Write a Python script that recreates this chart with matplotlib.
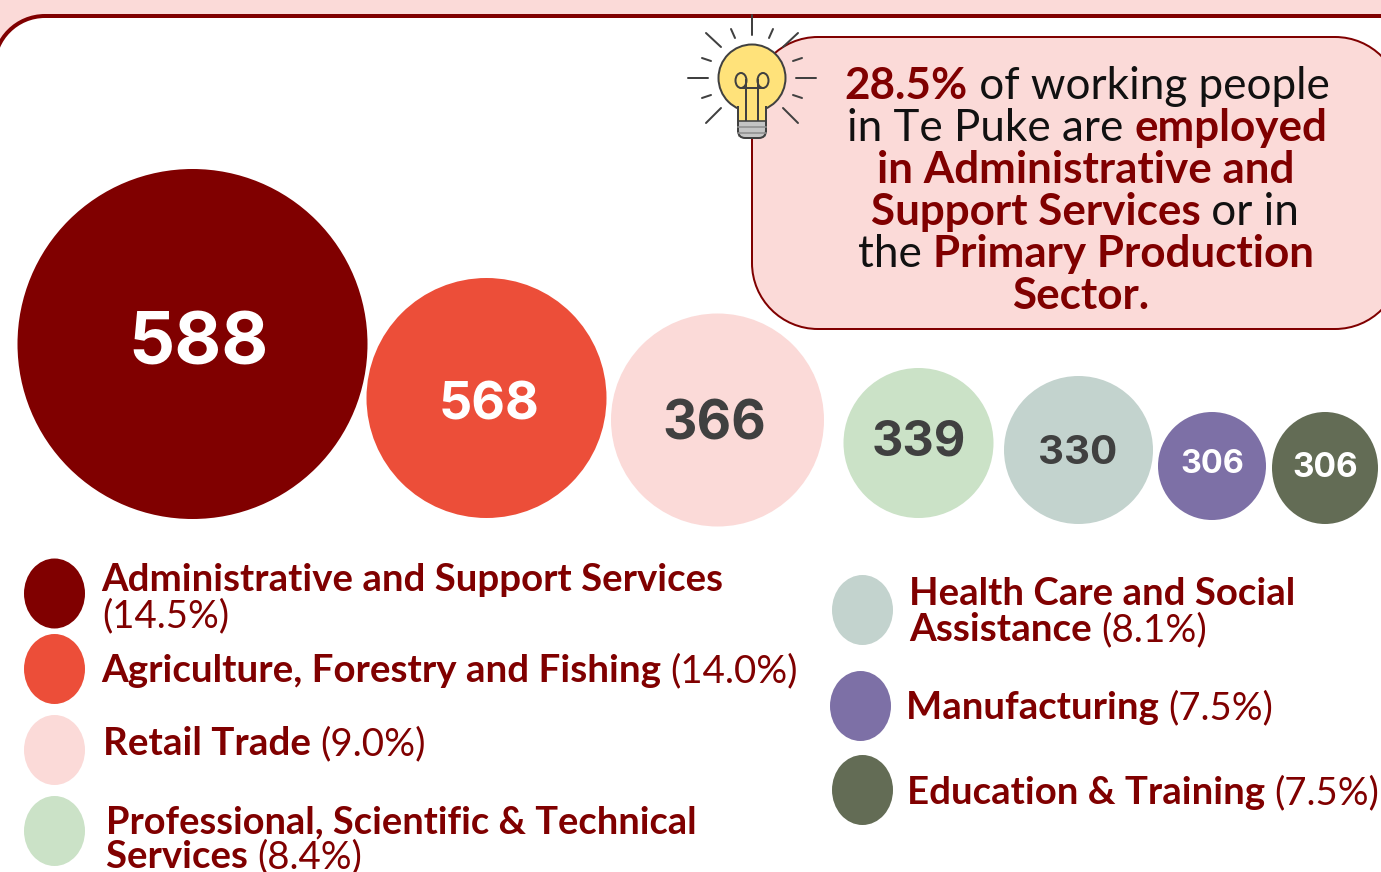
import matplotlib
matplotlib.use("Agg")
import matplotlib.pyplot as plt
from matplotlib.patches import Ellipse, Circle, PathPatch, Rectangle
from matplotlib.path import Path

# ---- data ----
counts = [588, 568, 366, 339, 330, 306, 306]
industries = ["Administrative and Support Services", "Agriculture, Forestry and Fishing", "Retail Trade",
              "Professional, Scientific & Technical Services", "Health Care and Social Assistance",
              "Manufacturing", "Education & Training"]
shares = [14.5, 14.0, 9.0, 8.4, 8.1, 7.5, 7.5]

# ---- styles / layout ----
DARK = "#800000"; PINK = "#FBDAD8"; GREY = "#404040"
colors = ["#800000", "#EC4E39", "#FBDAD8", "#CBE2C7", "#C3D3CE", "#7D70A6", "#636C55"]
num_colors = ["white", "white", GREY, GREY, GREY, "white", "white"]
bubbles = [(192.5, 344, 350, 350), (486.5, 398, 240, 240), (717.5, 420, 213, 213), (918.5, 443, 150, 150),
           (1078.5, 450, 149, 148), (1212, 466, 108, 108), (1325, 468, 106, 112)]
num_pos = [(199, 338, 52), (489, 400, 37.5), (714, 419, 38.4), (919, 437, 35), (1078, 449, 29), (1212, 461, 23.3), (1325, 464, 24)]
legend_dots = [(54.5, 593.5), (54.5, 669), (54.5, 750), (54.5, 831), (862.5, 610), (860.5, 706), (862.5, 790)]

W, H = 1381, 872
fig = plt.figure(figsize=(W / 100, H / 100), dpi=100, facecolor="white")
ax = fig.add_axes([0, 0, 1, 1])
ax.set_xlim(0, W); ax.set_ylim(H, 0); ax.axis("off")
px = 0.72
BODY = "Lato"


def round_box(x0, y0, x1, y1, r, **kw):
    k = 0.5523 * r
    verts = [(x0 + r, y0), (x1 - r, y0),
             (x1 - r + k, y0), (x1, y0 + r - k), (x1, y0 + r), (x1, y1 - r),
             (x1, y1 - r + k), (x1 - r + k, y1), (x1 - r, y1), (x0 + r, y1),
             (x0 + r - k, y1), (x0, y1 - r + k), (x0, y1 - r), (x0, y0 + r),
             (x0, y0 + r - k), (x0 + r - k, y0), (x0 + r, y0), (x0 + r, y0)]
    L, C = Path.LINETO, Path.CURVE4
    codes = [Path.MOVETO, L, C, C, C, L, C, C, C, L, C, C, C, L, C, C, C, Path.CLOSEPOLY]
    ax.add_patch(PathPatch(Path(verts, codes), **kw))


def runs(x, y, parts, size=27.6, center=False, normal=DARK):
    """Draw (string, bold) runs one after another on one baseline."""
    r = fig.canvas.get_renderer()
    total = 0
    items = []
    for s, b in parts:
        w8 = "bold" if b else "normal"
        a = ax.text(x, y, s, fontsize=size, family=BODY, color=DARK if b else normal,
                    fontweight=w8, va="baseline", ha="left", zorder=5)
        probe = ax.text(0, 0, "|" + s + "|", fontsize=size, family=BODY, fontweight=w8)
        bar = ax.text(0, 0, "||", fontsize=size, family=BODY, fontweight=w8)
        w = probe.get_window_extent(r).width - bar.get_window_extent(r).width
        probe.remove(); bar.remove()
        items.append((a, total)); total += w
    x0 = x - total / 2 if center else x
    for a, p in items:
        a.set_x(x0 + p)


# page background
ax.add_patch(Rectangle((0, 0), W, H, fc=PINK, ec="none", zorder=0))
round_box(-6, 16, W + 60, H + 60, 51, fc="white", ec=DARK, lw=4 * px, zorder=1)

# call-out box
round_box(752, 37, 1401, 329, 66, fc=PINK, ec=DARK, lw=2 * px, zorder=2)

# light bulb
cx, cy = 752, 78
rays = [(752, 15, 752, 35), (688, 78, 708, 78), (796, 78, 816, 78),
        (706, 33, 721, 47), (798, 33, 783, 47), (706, 123, 721, 108), (798, 123, 783, 108),
        (731, 29, 735, 38), (773, 29, 769, 38), (702, 58, 711, 61), (802, 58, 793, 61),
        (702, 98, 711, 95), (802, 98, 793, 95)]
for x1, y1, x2, y2 in rays:
    ax.plot([x1, x2], [y1, y2], color=GREY, lw=2 * px, zorder=3, solid_capstyle="round")
ax.add_patch(Rectangle((738, 118), 28, 19, fc="#C4C4C4", ec="none", zorder=3))
ax.add_patch(Circle((cx, cy), 33.5, fc="#FFE27A", ec=GREY, lw=2 * px, zorder=3))
ax.add_patch(Rectangle((739, 100), 26, 21, fc="#FFE27A", ec="none", zorder=3.1))
for xa in (738, 766):
    ax.plot([xa, xa], [107, 132], color=GREY, lw=2 * px, zorder=3.2)
ax.add_patch(PathPatch(Path([(738, 130), (738, 138), (745, 138), (759, 138), (766, 138), (766, 130)],
                            [Path.MOVETO, Path.CURVE3, Path.CURVE3, Path.LINETO, Path.CURVE3, Path.CURVE3]),
                       fc="#C4C4C4", ec=GREY, lw=2 * px, zorder=3.2))
for yy in (121, 127, 133):
    ax.plot([738, 766], [yy, yy], color=GREY if yy == 121 else "#8f8f8f", lw=1.6 * px, zorder=3.3)
for sx in (-1, 1):
    ax.plot([cx + sx * 6, cx + sx * 6], [120, 80], color=GREY, lw=2 * px, zorder=3.3)
    ax.add_patch(Ellipse((cx + sx * 11, 80.5), 11, 15, fc="none", ec=GREY, lw=2 * px, zorder=3.3))
ax.plot([cx - 11, cx + 11], [88, 88], color=GREY, lw=2 * px, zorder=3.3)

# bubbles and their numbers
for (x, y, w, h), c, n, nc, (tx, ty, fs) in zip(bubbles, colors, counts, num_colors, num_pos):
    ax.add_patch(Ellipse((x, y), w, h, fc=c, ec="none", zorder=3))
    ax.text(tx, ty, str(n), ha="center", va="center_baseline", fontsize=fs, color=nc,
            fontweight="bold", family="Inter", zorder=4)

# legend markers
for (x, y), c in zip(legend_dots, colors):
    ax.add_patch(Ellipse((x, y), 61, 70, fc=c, ec="none", zorder=3))

# legend text
sh = [f"({s:.1f}%)" for s in shares]
n1 = industries[0]
runs(101, 591, [(n1, True)])
runs(102, 627, [(sh[0], False)])
runs(101, 682, [(industries[1] + " ", True), (sh[1], False)], 27.7)
runs(103, 755, [(industries[2] + " ", True), (sh[2], False)], 27.8)
p = industries[3]
runs(106, 833, [(p[:-9], True)], 27.4)
runs(106, 868, [(p[-8:] + " ", True), (sh[3], False)])
h = industries[4]
runs(909, 605, [(h[:22], True)])
runs(909, 641, [(h[23:] + " ", True), (sh[4], False)], 27.8)
runs(906, 719, [(industries[5] + " ", True), (sh[5], False)])
runs(907, 804, [(industries[6] + " ", True), (sh[6], False)])

# call-out text
CS = 31.7
lines = [(99, 1087, [("28.5%", True), (" of working people", False)]),
         (141, 1087, [("in Te Puke are ", False), ("employed", True)]),
         (183, 1086, [("in Administrative and", True)]),
         (225, 1085, [("Support Services", True), (" or in", False)]),
         (267, 1086, [("the ", False), ("Primary Production", True)]),
         (309, 1081, [("Sector.", True)])]
for y, x, parts in lines:
    runs(x, y, parts, CS, center=True, normal="#111111")

fig.savefig("out.png", dpi=100)
